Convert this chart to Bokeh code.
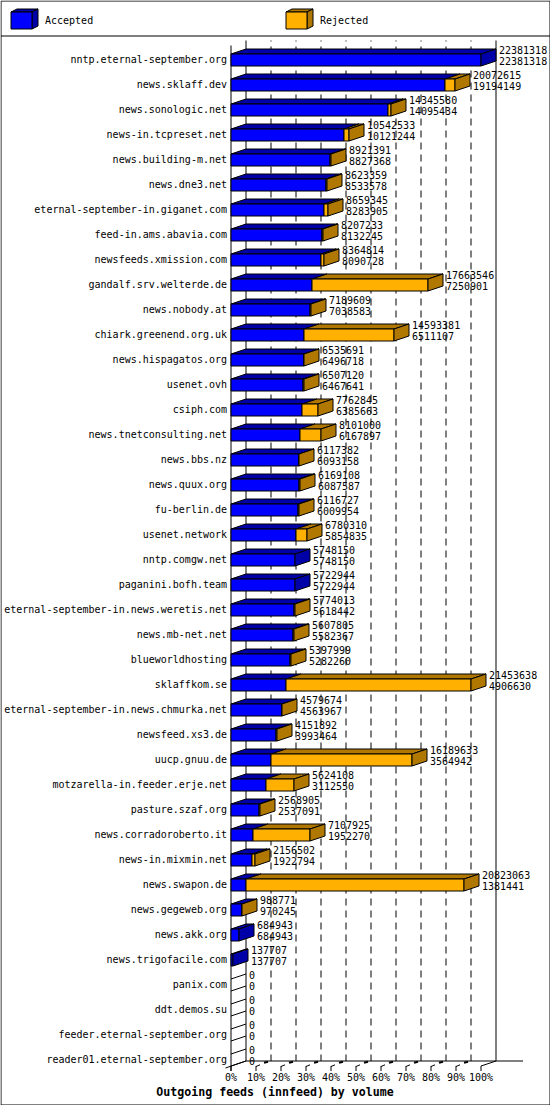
from bokeh.plotting import figure
from bokeh.models import Range1d
from bokeh.core.properties import value
from bokeh.embed import file_html
from bokeh.resources import INLINE

hosts = ["nntp.eternal-september.org","news.sklaff.dev","news.sonologic.net","news-in.tcpreset.net",
"news.building-m.net","news.dne3.net","eternal-september-in.giganet.com","feed-in.ams.abavia.com",
"newsfeeds.xmission.com","gandalf.srv.welterde.de","news.nobody.at","chiark.greenend.org.uk",
"news.hispagatos.org","usenet.ovh","csiph.com","news.tnetconsulting.net","news.bbs.nz","news.quux.org",
"fu-berlin.de","usenet.network","nntp.comgw.net","paganini.bofh.team","eternal-september-in.news.weretis.net",
"news.mb-net.net","blueworldhosting","sklaffkom.se","eternal-september-in.news.chmurka.net","newsfeed.xs3.de",
"uucp.gnuu.de","motzarella-in.feeder.erje.net","pasture.szaf.org","news.corradoroberto.it","news-in.mixmin.net",
"news.swapon.de","news.gegeweb.org","news.akk.org","news.trigofacile.com","panix.com","ddt.demos.su",
"feeder.eternal-september.org","reader01.eternal-september.org"]
offered = [22381318,20072615,14345580,10542533,8921391,8623359,8659345,8207233,8364814,17663546,7189609,
14593381,6535691,6507120,7762845,8101000,6117382,6169108,6116727,6780310,5748150,5722944,5774013,5607805,
5397999,21453638,4579674,4151892,16189633,5624108,2568905,7107925,2156502,20823063,988771,684943,137707,0,0,0,0]
accepted = [22381318,19194149,14095434,10121244,8827368,8533578,8283905,8132245,8090728,7250901,7038583,
6511107,6496718,6467641,6385663,6167897,6093158,6087587,6009954,5854835,5748150,5722944,5618442,5582367,
5282260,4906630,4563967,3993464,3564942,3112550,2537091,1952270,1922794,1381441,970245,684943,137707,0,0,0,0]
tick_pct = [0,10,20,30,40,50,60,70,80,90,100]
legend_names = ["Accepted","Rejected"]
title_text = "Outgoing feeds (innfeed) by volume"

BLUE, DBLUE, ORANGE, DORANGE = "#0000ff", "#0000a8", "#ffb000", "#b07800"
FONT = value("DejaVu Sans Mono")
W, H = 550, 1105
MAXV = max(offered)
UNIT = MAXV / 250.0          # volume per pixel
ORG = 230.5                  # pixel of volume zero, front plane
ROW0 = 59.5                  # pixel of first row centre
STEP = 25.0

def X(px):  # pixel -> data
    return (px - ORG) * UNIT
def Y(py):
    return (py - ROW0) / STEP
def snap(v):  # volume -> crisp pixel
    return round(ORG + v / UNIT - 0.5) + 0.5

p = figure(width=W, height=H, output_backend="svg", toolbar_location=None,
           x_range=Range1d(X(0), X(W)), y_range=Range1d(Y(H), Y(0)),
           min_border=0, outline_line_color=None, background_fill_color="white",
           border_fill_color="white")
p.xaxis.visible = False
p.yaxis.visible = False
p.grid.visible = False
p.styles = {"position": "absolute", "left": "0px", "top": "0px"}

def seg(x0, y0, x1, y1, **kw):
    p.segment([X(x0)], [Y(y0)], [X(x1)], [Y(y1)], line_color="black", line_width=kw.pop("w", 1), **kw)

# frame and legend separator
seg(0.5, 0.5, 549.5, 0.5); seg(0.5, 1104.5, 549.5, 1104.5)
seg(0.5, 0.5, 0.5, 1104.5); seg(549.5, 0.5, 549.5, 1104.5)
seg(0.5, 35.5, 549.5, 35.5)

# back walls, grid
for t in tick_pct:
    bx = snap(MAXV * t / 100.0) + 15
    if t in (0, 100):
        seg(bx, 40, bx, 1060.5)
    else:
        seg(bx, 40, bx, 1060.5, line_dash="7 5", line_dash_offset=6)
seg(230.5, 45, 230.5, 1070.5)
seg(245.5, 1060.5, 522.5, 1060.5)
seg(225, 1067.5, 245.5, 1060.5)

# ticks on the floor
for t in tick_pct:
    fx = snap(MAXV * t / 100.0)
    seg(fx, 1065.5, fx, 1070.5)
    if t == 100:
        seg(fx, 1065.5, fx + 15, 1060.5)
    elif t > 0:
        seg(fx, 1066, fx + 4, 1064.3)
        seg(fx + 8, 1062.3, fx + 12, 1061.3, w=2)

# bars
xs, ys, fills = [], [], []
def poly(px, py, c):
    xs.append([X(a) for a in px]); ys.append([Y(b) for b in py]); fills.append(c)

for i, (tot, acc) in enumerate(zip(offered, accepted)):
    top = 53.5 + STEP * i
    bot = 65.5 + STEP * i
    x0, x1, x2 = ORG, snap(acc), snap(tot)
    if tot == 0:
        seg(x0, top, x0 + 15, top - 5)
        seg(x0, bot, x0 + 15, bot - 5)
        continue
    poly([x0, x0+15, x1+15, x1], [top, top-5, top-5, top], DBLUE)
    if tot > acc:
        poly([x1, x1+15, x2+15, x2], [top, top-5, top-5, top], DORANGE)
    poly([x0, x1, x1, x0], [top, top, bot, bot], BLUE)
    if tot > acc:
        poly([x1, x2, x2, x1], [top, top, bot, bot], ORANGE)
    poly([x2, x2+15, x2+15, x2], [top, top-5, bot-5, bot], DORANGE if tot > acc else DBLUE)

# legend cubes
for lx, front, dark in ((10.5, BLUE, DBLUE), (285.5, ORANGE, DORANGE)):
    poly([lx, lx+6, lx+27, lx+21], [11.5, 8.5, 8.5, 11.5], dark)
    poly([lx+21, lx+27, lx+27, lx+21], [11.5, 8.5, 25.5, 28.5], dark)
    poly([lx, lx+21, lx+21, lx], [11.5, 11.5, 28.5, 28.5], front)

p.patches(xs, ys, fill_color=fills, line_color="black", line_width=1, line_join="miter")

def text(px, py, s, align="left", size="10px", style="normal"):
    p.text([X(a) for a in px], [Y(b) for b in py], text=s, text_font=FONT,
           text_font_size=size, text_font_style=style, text_align=align,
           text_baseline="middle", text_color="black")

text([226.5] * len(hosts), [58.5 + STEP * i for i in range(len(hosts))], hosts, align="right")
lab_x = [snap(v) + 15 + 3 for v in offered]
text(lab_x, [49 + STEP * i for i in range(len(offered))], [str(v) for v in offered])
text(lab_x, [60.5 + STEP * i for i in range(len(accepted))], [str(v) for v in accepted])
text([snap(MAXV * t / 100.0) for t in tick_pct], [1077] * len(tick_pct), [f"{t}%" for t in tick_pct], align="center")
text([44.5, 319.5], [19.5, 19.5], legend_names)
text([274.5], [1091], [title_text], align="center", size="11.6px", style="bold")

open("out.html", "w").write(file_html(p, INLINE))
